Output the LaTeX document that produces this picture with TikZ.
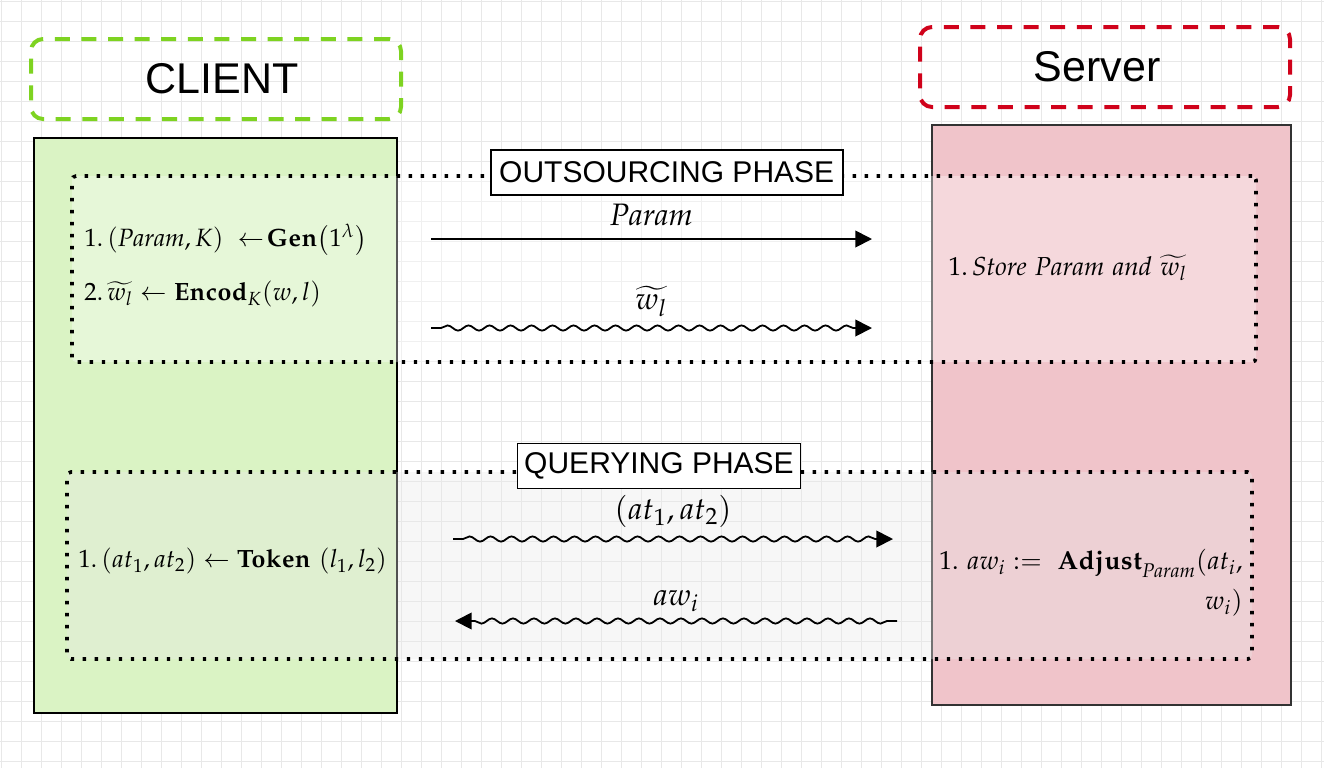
\documentclass[tikz,border=0pt]{standalone}
\usepackage[no-math]{fontspec}
\newfontfamily\sanslbl{Liberation Sans}
\usepackage{mathpazo}
\DeclareMathAlphabet{\mathpit}{OT1}{ppl}{m}{it}
\usetikzlibrary{arrows.meta,decorations.pathmorphing}

\definecolor{gridgray}{RGB}{232,232,232}
\definecolor{clientgreen}{RGB}{126,211,33}
\definecolor{serverred}{RGB}{208,2,27}
\definecolor{clientfill}{RGB}{218,243,196}
\definecolor{serverfill}{RGB}{240,196,202}
\definecolor{queryfill}{RGB}{233,233,233}

\tikzset{
  gridline/.style={draw=gridgray,line width=0.5pt},
  rolebox/.style={rounded corners=6pt,line width=2pt,dash pattern=on 7.5pt off 5.8pt,
    minimum width=185pt,minimum height=40pt,font=\sanslbl\fontsize{21.5}{24}\selectfont},
  partybox/.style={draw,line width=1pt},
  phasebox/.style={draw,rounded corners=2pt,line width=1.8pt,dash pattern=on 1.7pt off 4.3pt},
  phaselabel/.style={draw,fill=white,line width=0.8pt,minimum height=22.5pt,
    font=\sanslbl\fontsize{15}{18}\selectfont},
  mathtext/.style={inner sep=0pt,font=\fontsize{12.5}{16}\selectfont},
  msg/.style={-{Triangle[length=8.3pt,width=8.3pt]},line width=0.9pt,font=\fontsize{15.5}{18}\selectfont},
  wavy/.style={msg,decorate,decoration={snake,amplitude=1.3pt,segment length=10.5pt,
    pre length=5pt,post length=6pt}}
}

\begin{document}
\begin{tikzpicture}[x=0.5pt,y=-0.5pt]
\useasboundingbox[fill=white] (0,0) rectangle (1324,768);
% grid
\foreach \gx in {1,21,...,1321} \draw[gridline] (\gx,0) -- (\gx,768);
\foreach \gy in {1,21,...,761} \draw[gridline] (0,\gy) -- (1324,\gy);

% parties
\node[rolebox,draw=clientgreen] (clienthead) at (216,79) {\hspace*{6pt}CLIENT};
\node[rolebox,draw=serverred] (serverhead) at (1105,67) {Server\hspace*{8pt}};
\node[partybox,fill=clientfill,minimum width=181.5pt,minimum height=287.5pt] (client) at (215.5,425.5) {};
\node[partybox,fill=serverfill,draw=black!80,minimum width=179.5pt,minimum height=290pt] (server) at (1111.5,415) {};

% phases
\node[phasebox,fill=white,fill opacity=0.35,minimum width=592pt,minimum height=93pt] (outsource) at (664,269) {};
\node[phasebox,fill=queryfill,fill opacity=0.35,minimum width=592.5pt,minimum height=93.5pt] (query) at (659.5,565.5) {};
\node[phaselabel,minimum width=176pt] (outlabel) at (666.7,172.5) {OUTSOURCING PHASE};
\node[phaselabel,minimum width=141pt] (querylabel) at (659,466) {QUERYING PHASE};

% client and server steps
\node[mathtext,anchor=west] (gen) at (84,240) {$1.\,(\mathit{Param},K)\;\leftarrow\!\mathbf{Gen}\bigl(1^{\lambda}\bigr)$};
\node[mathtext,anchor=west] (encod) at (84,294) {$2.\,\widetilde{w_l}\leftarrow\mathbf{Encod}_K(w,l)$};
\node[mathtext,anchor=west,font=\fontsize{13}{16}\selectfont] (store) at (948,268) {$1.\,\mathpit{Store\ Param\ and}\ \widetilde{w_l}$};
\node[mathtext,anchor=west] (token) at (78,561) {$1.\,(at_1,at_2)\leftarrow\mathbf{Token}\ (l_1,l_2)$};
\node[mathtext,anchor=east,align=right,font=\fontsize{13}{20}\selectfont] (adjust) at (1243,583)
  {$1.\ aw_i:=\ \mathbf{Adjust}_{\mathpit{Param}}(at_i,$\\$w_i)$};

% messages
\coordinate (p1) at (431,239); \coordinate (p2) at (872,239);
\coordinate (w1) at (431,328); \coordinate (w2) at (872,328);
\coordinate (q1) at (453,539); \coordinate (q2) at (893,539);
\coordinate (r1) at (897,621); \coordinate (r2) at (455,621);
\draw[msg] (p1) -- node[above=3pt] {$\mathit{Param}$} (p2);
\draw[wavy] (w1) -- node[above=2pt] {$\widetilde{w_l}$} (w2);
\draw[wavy] (q1) -- node[above=2pt] {$(at_1,at_2)$} (q2);
\draw[wavy] (r1) -- node[above=1pt] {$aw_i$} (r2);
\end{tikzpicture}
\end{document}
